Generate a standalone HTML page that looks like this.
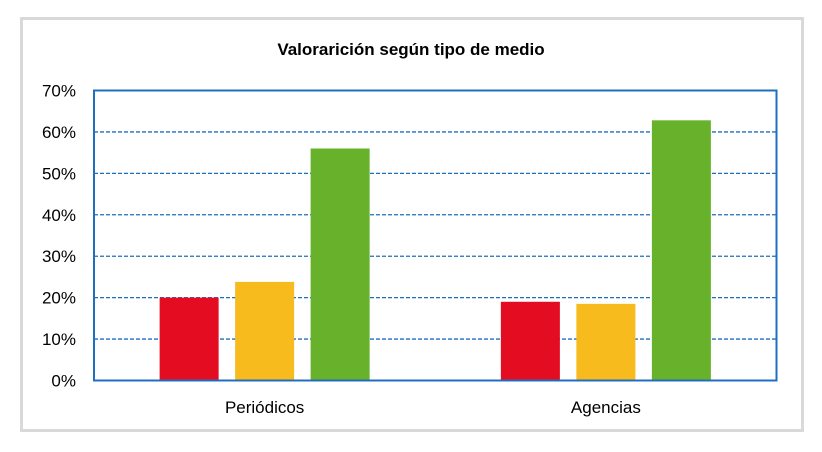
<!DOCTYPE html>
<html><head><meta charset="utf-8"><style>
body{margin:0;background:#fff;width:822px;height:447px;overflow:hidden;font-family:"Liberation Sans",sans-serif}
</style></head><body>
<svg width="822" height="447">
<rect x="21.5" y="18.5" width="781" height="412" fill="#fff" stroke="#d9d9d9" stroke-width="3"/>
<text x="411" y="55" text-anchor="middle" font-size="17" font-weight="bold" fill="#000">Valorarición según tipo de medio</text>
<g id="grid"></g><g id="bars"></g><g id="axes"></g>
<rect x="94" y="90.5" width="682.5" height="290" fill="none" stroke="#1f6fbf" stroke-width="2"/>
</svg>
<script>
const categories=["Periódicos","Agencias"];
const seriesRed=[20,19];
const seriesYellow=[23.8,18.5];
const seriesGreen=[56,62.8];
const ticks=[0,10,20,30,40,50,60,70];
const tickLabels=["0%","10%","20%","30%","40%","50%","60%","70%"];
const NS="http://www.w3.org/2000/svg";
const L=94,R=776.5,T=90.5,B=380.5,MAX=70;
const y=v=>B-(v/MAX)*(B-T);
const groupW=(R-L)/categories.length;
const g=document.getElementById('grid'),bg=document.getElementById('bars'),ag=document.getElementById('axes');
function mk(tag,attrs,parent){const e=document.createElementNS(NS,tag);for(const k in attrs)e.setAttribute(k,attrs[k]);parent.appendChild(e);return e;}
ticks.forEach((t,i)=>{
  if(t>0&&t<MAX){const l=mk('line',{x1:L,x2:R,y1:y(t),y2:y(t),stroke:'#1f6fbf','stroke-width':1.3,'stroke-dasharray':'4,2'},g);
  
  }
  const tx=mk('text',{x:76,y:y(t)+6,'text-anchor':'end','font-size':17,fill:'#000'},ag);
  tx.textContent=tickLabels[i];
  
  
});
const series=[[seriesRed,'#e30c20','red'],[seriesYellow,'#f8bb1e','yellow'],[seriesGreen,'#67b22a','green']];
const bw=59,step=75.5;
categories.forEach((c,ci)=>{
  const cx=L+groupW*(ci+0.5);
  series.forEach(([vals,col,nm],si)=>{
    const x=cx+(si-1)*step-bw/2;
    const r=mk('rect',{x:x,y:y(vals[ci]),width:bw,height:B-y(vals[ci]),fill:col},bg);
    
    
  });
  const tx=mk('text',{x:cx,y:413,'text-anchor':'middle','font-size':17,fill:'#000'},ag);
  tx.textContent=c;
  
  
});
</script>
</body></html>
